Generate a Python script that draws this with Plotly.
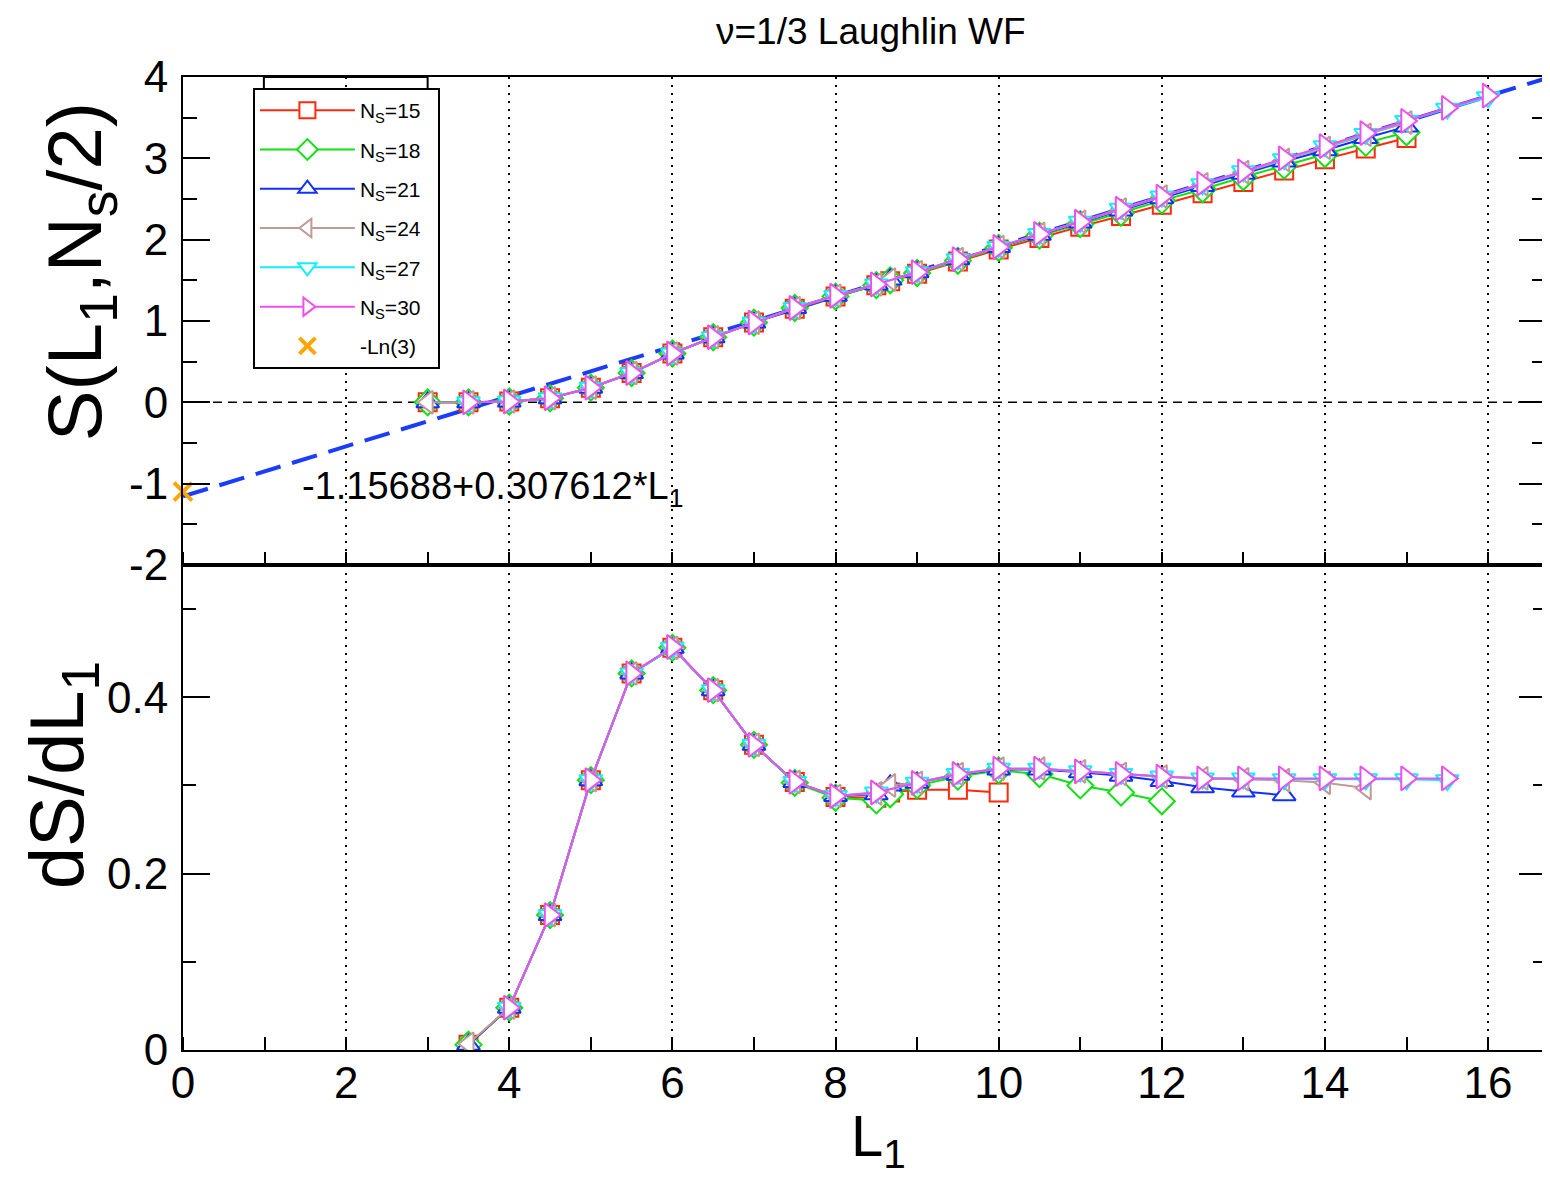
import plotly.graph_objects as go

# ---------------- data ----------------
NB = "\u00a0\u00a0"
ns_labels = ["N<sub>S</sub>=15" + NB, "N<sub>S</sub>=18" + NB, "N<sub>S</sub>=21" + NB,
             "N<sub>S</sub>=24" + NB, "N<sub>S</sub>=27" + NB, "N<sub>S</sub>=30" + NB]

# top panel: entropy S(L1, Ns/2)
L1_top_15 = [3, 3.5, 4, 4.5, 5, 5.5, 6, 6.5, 7, 7.5, 8, 8.5, 8.67, 9, 9.5, 10, 10.5, 11, 11.5, 12, 12.5, 13, 13.5, 14, 14.5, 15]
S_top_15 = [0.0, 0.0, 0.01, 0.05, 0.18, 0.36, 0.60, 0.80, 0.98, 1.15, 1.30, 1.44, 1.49, 1.58, 1.73, 1.88, 2.02, 2.16, 2.29, 2.43, 2.57, 2.71, 2.85, 2.99, 3.12, 3.25]
L1_top_18 = [3, 3.5, 4, 4.5, 5, 5.5, 6, 6.5, 7, 7.5, 8, 8.5, 8.67, 9, 9.5, 10, 10.5, 11, 11.5, 12, 12.5, 13, 13.5, 14, 14.5, 15]
S_top_18 = [0.0, 0.0, 0.01, 0.05, 0.18, 0.36, 0.60, 0.80, 0.98, 1.16, 1.30, 1.44, 1.50, 1.59, 1.74, 1.90, 2.05, 2.19, 2.33, 2.48, 2.62, 2.77, 2.91, 3.05, 3.19, 3.32]
L1_top_21 = [3, 3.5, 4, 4.5, 5, 5.5, 6, 6.5, 7, 7.5, 8, 8.5, 8.67, 9, 9.5, 10, 10.5, 11, 11.5, 12, 12.5, 13, 13.5, 14, 14.5, 15]
S_top_21 = [0.0, 0.0, 0.01, 0.05, 0.18, 0.36, 0.60, 0.80, 0.98, 1.16, 1.31, 1.45, 1.51, 1.60, 1.76, 1.91, 2.06, 2.21, 2.36, 2.51, 2.66, 2.81, 2.96, 3.10, 3.25, 3.39]
L1_top_24 = [3, 3.5, 4, 4.5, 5, 5.5, 6, 6.5, 7, 7.5, 8, 8.5, 8.67, 9, 9.5, 10, 10.5, 11, 11.5, 12, 12.5, 13, 13.5, 14, 14.5, 15]
S_top_24 = [0.0, 0.0, 0.01, 0.05, 0.18, 0.36, 0.60, 0.80, 0.98, 1.16, 1.31, 1.45, 1.51, 1.60, 1.76, 1.91, 2.07, 2.22, 2.37, 2.53, 2.68, 2.83, 2.98, 3.13, 3.29, 3.44]
L1_top_27 = [3.5, 4, 4.5, 5, 5.5, 6, 6.5, 7, 7.5, 8, 8.5, 9, 9.5, 10, 10.5, 11, 11.5, 12, 12.5, 13, 13.5, 14, 14.5, 15, 15.5, 16]
S_top_27 = [0.0, 0.01, 0.05, 0.18, 0.36, 0.60, 0.80, 0.98, 1.16, 1.31, 1.45, 1.60, 1.76, 1.91, 2.07, 2.22, 2.38, 2.53, 2.68, 2.84, 2.99, 3.15, 3.30, 3.46, 3.61, 3.75]
L1_top_30 = [3.5, 4, 4.5, 5, 5.5, 6, 6.5, 7, 7.5, 8, 8.5, 9, 9.5, 10, 10.5, 11, 11.5, 12, 12.5, 13, 13.5, 14, 14.5, 15, 15.5, 16]
S_top_30 = [0.0, 0.01, 0.05, 0.18, 0.36, 0.60, 0.80, 0.98, 1.16, 1.31, 1.45, 1.60, 1.76, 1.91, 2.07, 2.22, 2.38, 2.53, 2.69, 2.84, 3.00, 3.15, 3.31, 3.46, 3.62, 3.77]

# bottom panel: dS/dL1
L1_bot_15 = [3.5, 4, 4.5, 5, 5.5, 6, 6.5, 7, 7.5, 8, 8.5, 8.67, 9, 9.5, 10]
D_bot_15 = [0.006, 0.048, 0.153, 0.306, 0.427, 0.456, 0.408, 0.346, 0.304, 0.287, 0.286, 0.292, 0.295, 0.295, 0.292]
L1_bot_18 = [3.5, 4, 4.5, 5, 5.5, 6, 6.5, 7, 7.5, 8, 8.5, 8.67, 9, 9.5, 10, 10.5, 11, 11.5, 12]
D_bot_18 = [0.006, 0.048, 0.153, 0.306, 0.427, 0.456, 0.408, 0.346, 0.303, 0.286, 0.283, 0.290, 0.300, 0.310, 0.317, 0.313, 0.300, 0.292, 0.282]
L1_bot_21 = [3.5, 4, 4.5, 5, 5.5, 6, 6.5, 7, 7.5, 8, 8.5, 8.67, 9, 9.5, 10, 10.5, 11, 11.5, 12, 12.5, 13, 13.5]
D_bot_21 = [0.006, 0.048, 0.153, 0.306, 0.427, 0.456, 0.408, 0.346, 0.304, 0.288, 0.290, 0.300, 0.303, 0.312, 0.318, 0.318, 0.315, 0.311, 0.305, 0.298, 0.293, 0.289]
L1_bot_24 = [3.5, 4, 4.5, 5, 5.5, 6, 6.5, 7, 7.5, 8, 8.5, 8.67, 9, 9.5, 10, 10.5, 11, 11.5, 12, 12.5, 13, 13.5, 14, 14.5]
D_bot_24 = [0.007, 0.048, 0.153, 0.306, 0.427, 0.456, 0.408, 0.346, 0.304, 0.288, 0.291, 0.300, 0.303, 0.313, 0.319, 0.319, 0.316, 0.313, 0.310, 0.308, 0.307, 0.306, 0.303, 0.297]
L1_bot_27 = [4, 4.5, 5, 5.5, 6, 6.5, 7, 7.5, 8, 8.5, 9, 9.5, 10, 10.5, 11, 11.5, 12, 12.5, 13, 13.5, 14, 14.5, 15, 15.5]
D_bot_27 = [0.048, 0.153, 0.306, 0.427, 0.456, 0.408, 0.346, 0.304, 0.288, 0.292, 0.303, 0.313, 0.319, 0.319, 0.316, 0.313, 0.310, 0.308, 0.308, 0.307, 0.307, 0.307, 0.307, 0.306]
L1_bot_30 = [4, 4.5, 5, 5.5, 6, 6.5, 7, 7.5, 8, 8.5, 9, 9.5, 10, 10.5, 11, 11.5, 12, 12.5, 13, 13.5, 14, 14.5, 15, 15.5]
D_bot_30 = [0.048, 0.153, 0.306, 0.427, 0.457, 0.408, 0.346, 0.304, 0.288, 0.292, 0.303, 0.313, 0.319, 0.319, 0.316, 0.313, 0.310, 0.308, 0.308, 0.308, 0.308, 0.308, 0.308, 0.308]

# linear fit and -ln(3)
fit_intercept = -1.15688
fit_slope = 0.307612
fit_x = [0.0, 16.71]
ln3_x = [0.0]
ln3_y = [-1.0986]

x_tickvals = [0, 2, 4, 6, 8, 10, 12, 14, 16]
top_tickvals = [-2, -1, 0, 1, 2, 3, 4]
top_ticktext = ["-2", "-1", "0", "1", "2", "3", "4"]
bot_tickvals = [0, 0.2, 0.4]
bot_ticktext = ["0", "0.2", "0.4"]

# ---------------- styles ----------------
colors = ["#ff2a0a", "#11e011", "#1030ff", "#c09a94", "#10eeff", "#ee50ee"]
symbols = ["square", "diamond", "triangle-up", "triangle-left", "triangle-down", "triangle-right"]
sizes = [18, 20, 20, 20, 20, 21]
FONT = "Liberation Sans, Arial, Helvetica, sans-serif"

tops = [(L1_top_15, S_top_15), (L1_top_18, S_top_18), (L1_top_21, S_top_21),
        (L1_top_24, S_top_24), (L1_top_27, S_top_27), (L1_top_30, S_top_30)]
bots = [(L1_bot_15, D_bot_15), (L1_bot_18, D_bot_18), (L1_bot_21, D_bot_21),
        (L1_bot_24, D_bot_24), (L1_bot_27, D_bot_27), (L1_bot_30, D_bot_30)]

fig = go.Figure()

fit_y = [fit_intercept + fit_slope * v for v in fit_x]
fig.add_trace(go.Scatter(x=fit_x, y=fit_y, mode="lines", xaxis="x2", yaxis="y2",
                         line=dict(color="#1a3cff", width=4, dash="26px,12px"),
                         showlegend=False, hoverinfo="skip"))

for i in range(6):
    mk = dict(symbol=symbols[i], size=sizes[i], color="white",
              line=dict(color=colors[i], width=2))
    fig.add_trace(go.Scatter(x=tops[i][0], y=tops[i][1], mode="lines+markers",
                             xaxis="x2", yaxis="y2", name=ns_labels[i],
                             legendgroup=f"g{i}",
                             line=dict(color=colors[i], width=2), marker=mk))
    fig.add_trace(go.Scatter(x=bots[i][0], y=bots[i][1], mode="lines+markers",
                             xaxis="x", yaxis="y", name=ns_labels[i],
                             legendgroup=f"g{i}", showlegend=False,
                             line=dict(color=colors[i], width=2), marker=mk))

fig.add_trace(go.Scatter(x=ln3_x, y=ln3_y, mode="markers", xaxis="x2", yaxis="y2",
                         name="-Ln(3)", legendgroup="g6", cliponaxis=False,
                         marker=dict(symbol="x-thin", size=18, color="#ffa500",
                                     line=dict(color="#ffa500", width=4))))

# ---------------- geometry (screen pixels; page has an 8px body margin) ----------------
W, H = 1550, 1179
OFF = 8
PL, PT, PR, PB = 183, 77, 1548, 1050     # plot area as seen on screen
pw, ph = PR - PL, PB - PT


def px2paper(px, py):
    return (px - PL) / pw, (PB - py) / ph


split = 0.4985
common_x = dict(range=[0, 16.71], tickvals=x_tickvals, ticks="", showline=True,
                linecolor="black", linewidth=2, mirror=True,
                showgrid=True, gridcolor="black", gridwidth=2, griddash="2px,6px",
                zeroline=False,
                minor=dict(dtick=1, tick0=0, ticks="inside", ticklen=13,
                           tickwidth=2, tickcolor="black", showgrid=False))
fig.update_layout(
    xaxis=dict(common_x, anchor="y", domain=[0, 1], showticklabels=True,
               tickfont=dict(size=44, family=FONT, color="black"),
               ticklabelstandoff=-7),
    xaxis2=dict(common_x, anchor="y2", domain=[0, 1], matches="x",
                showticklabels=False),
    yaxis=dict(domain=[0, split], range=[0, 0.55], tickvals=bot_tickvals,
               ticktext=bot_ticktext, ticks="inside", ticklen=27, tickwidth=2,
               tickcolor="black", showline=True, linecolor="black", linewidth=2,
               mirror="ticks", showgrid=False, zeroline=False,
               tickfont=dict(size=44, family=FONT, color="black"),
               ticklabelstandoff=4,
               minor=dict(tickvals=[0.1, 0.3, 0.5], ticks="inside", ticklen=13,
                          tickwidth=2, tickcolor="black", showgrid=False)),
    yaxis2=dict(domain=[split, 1], range=[-2, 4], tickvals=top_tickvals,
                ticktext=top_ticktext, ticks="inside", ticklen=27, tickwidth=2,
                tickcolor="black", showline=True, linecolor="black", linewidth=2,
                mirror="ticks", showgrid=False, zeroline=False,
                tickfont=dict(size=44, family=FONT, color="black"),
                ticklabelstandoff=4,
                minor=dict(dtick=0.5, tick0=0, ticks="inside", ticklen=14,
                           tickwidth=2, tickcolor="black", showgrid=False)),
)

fig.update_layout(
    width=W, height=H,
    margin=dict(l=PL - OFF, r=W - (PR - OFF), t=PT - OFF, b=H - (PB - OFF), pad=0),
    paper_bgcolor="white", plot_bgcolor="white",
    font=dict(family=FONT, color="black"),
    showlegend=True,
    legend=dict(x=px2paper(253, 0)[0], y=px2paper(0, 88)[1], xanchor="left",
                yanchor="top", bgcolor="white", bordercolor="black",
                borderwidth=2, font=dict(size=21, family=FONT, color="black"),
                tracegroupgap=9, itemwidth=95, itemsizing="trace"),
)

# zero dashed line in the top panel
fig.add_shape(type="line", xref="x2 domain", x0=0, x1=1, yref="y2", y0=0, y1=0,
              line=dict(color="black", width=1.5, dash="9px,6px"), layer="below")

# small bracket above legend box
bx0, by0 = px2paper(264, 90)
bx1, by1 = px2paper(428, 77)
fig.add_shape(type="rect", xref="paper", yref="paper", x0=bx0, x1=bx1, y0=by0, y1=by1,
              line=dict(color="black", width=2), fillcolor="rgba(0,0,0,0)")

# annotations: title, axis titles, fit formula
ann = []


def add_text(text, px, py, size, angle=0):
    x, y = px2paper(px, py)
    ann.append(dict(text=text, x=x, y=y, xref="paper", yref="paper",
                    xanchor="center", yanchor="middle", textangle=angle,
                    showarrow=False, font=dict(size=size, family=FONT, color="black")))


add_text("\u03bd=1/3 Laughlin WF", 872, 31, 37)
add_text("S(L<sub>1</sub>,N<sub>s</sub>/2)", 80, 272, 76, -90)
add_text("dS/dL<sub>1</sub>", 62, 775, 76, -90)
add_text("L<sub>1</sub>", 880, 1140, 58)
ann.append(dict(text="-1.15688+0.307612*L<sub>1</sub>", x=1.43, y=-1.07,
                xref="x2", yref="y2", xanchor="left", yanchor="middle",
                showarrow=False, font=dict(size=38, family=FONT, color="black")))
fig.update_layout(annotations=ann)

fig.write_html("out.html")
